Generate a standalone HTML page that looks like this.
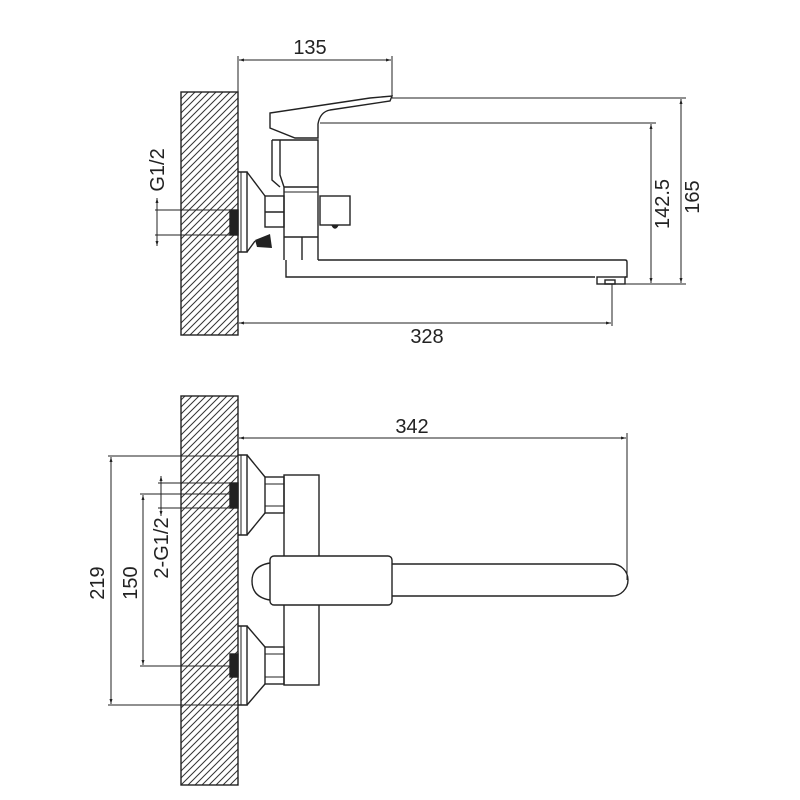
<!DOCTYPE html>
<html><head><meta charset="utf-8"><style>
html,body{margin:0;padding:0;background:#fff}
svg{display:block}
text{font-family:"Liberation Sans",sans-serif;font-size:20px;fill:#222}
</style></head><body>
<svg width="800" height="800" viewBox="0 0 800 800" xmlns="http://www.w3.org/2000/svg">
<defs>
<pattern id="h" patternUnits="userSpaceOnUse" width="7" height="7">
<path d="M-1,8 L8,-1 M-1,1 L1,-1 M6,8 L8,6" stroke="#333" stroke-width="1"/>
</pattern>
<marker id="a" viewBox="0 0 10 10" refX="10" refY="5" markerWidth="7" markerHeight="5" orient="auto-start-reverse"><path d="M0,2 L10,5 L0,8z" fill="#222"/></marker>
</defs>
<g fill="none" stroke="#222" stroke-width="1.4">
<!-- TOP VIEW -->
<rect x="181" y="92" width="57" height="243" fill="url(#h)"/>
<rect x="230" y="210" width="8" height="25" fill="#222"/>
<line x1="155" y1="210" x2="230" y2="210" stroke-width="1"/>
<line x1="155" y1="235" x2="230" y2="235" stroke-width="1"/>
<line x1="157" y1="198" x2="157" y2="246" stroke-width="1" marker-start="url(#a)" marker-end="url(#a)"/>
<path d="M238,172 L247,172 L247,252 L238,252"/>
<line x1="241" y1="172" x2="241" y2="252" stroke-width="1"/>
<path d="M247,172 L265,196 M247,252 L255,241"/>
<polygon points="255,240 270,234 272,248 257,247" fill="#222" stroke="none"/>
<rect x="265" y="196" width="19" height="31"/>
<line x1="265" y1="212" x2="284" y2="212"/>
<path d="M270,113 L270,128 L295,138 L318,138 L318,124 Q320,112 330,110 L390,101 L392,96 L370,98 Z"/>
<path d="M272,140 L318,140 L318,260"/>
<path d="M272,140 L272,180 L280,187"/>
<path d="M280,140 L280,175 L284,187 L284,260"/>
<line x1="284" y1="187" x2="318" y2="187"/>
<line x1="284" y1="192" x2="318" y2="192" stroke-width="1"/>
<line x1="284" y1="237" x2="318" y2="237"/>
<line x1="302" y1="237" x2="302" y2="260"/>
<rect x="320" y="196" width="30" height="29"/>
<path d="M332,225 Q335,231 338,225" fill="#222"/>
<path d="M286,260 L286,277 L595,277 M318,260 L625,260 Q627,260 627,262 L627,277 L625,277"/>
<rect x="597" y="277" width="28" height="7"/>
<rect x="605" y="280" width="10" height="4"/>
<line x1="238" y1="56" x2="238" y2="92" stroke-width="1"/>
<line x1="392" y1="56" x2="392" y2="98" stroke-width="1"/>
<line x1="239" y1="60" x2="391" y2="60" stroke-width="1" marker-start="url(#a)" marker-end="url(#a)"/>
<line x1="392" y1="98" x2="686" y2="98" stroke-width="1"/>
<line x1="320" y1="123" x2="656" y2="123" stroke-width="1"/>
<line x1="625" y1="284" x2="686" y2="284" stroke-width="1"/>
<line x1="651" y1="124" x2="651" y2="283" stroke-width="1" marker-start="url(#a)" marker-end="url(#a)"/>
<line x1="681" y1="99" x2="681" y2="283" stroke-width="1" marker-start="url(#a)" marker-end="url(#a)"/>
<line x1="238" y1="335" x2="238" y2="326" stroke-width="1"/>
<line x1="612" y1="284" x2="612" y2="326" stroke-width="1"/>
<line x1="239" y1="323" x2="611" y2="323" stroke-width="1" marker-start="url(#a)" marker-end="url(#a)"/>

<!-- BOTTOM VIEW -->
<rect x="181" y="396" width="57" height="389" fill="url(#h)"/>
<rect x="230" y="483" width="8" height="25" fill="#222"/>
<rect x="230" y="654" width="8" height="23" fill="#222"/>
<g>
<path d="M238,455 L247,455 L247,535 L238,535"/>
<line x1="241" y1="455" x2="241" y2="535" stroke-width="1"/>
<path d="M247,455 L265,477 M247,535 L265,513"/>
<rect x="265" y="477" width="19" height="36"/>
<line x1="265" y1="484" x2="284" y2="484" stroke-width="1"/>
<line x1="265" y1="506" x2="284" y2="506" stroke-width="1"/>
</g>
<g>
<path d="M238,626 L247,626 L247,705 L238,705"/>
<line x1="241" y1="626" x2="241" y2="705" stroke-width="1"/>
<path d="M247,626 L265,647 M247,705 L265,684"/>
<rect x="265" y="647" width="19" height="37"/>
<line x1="265" y1="654" x2="284" y2="654" stroke-width="1"/>
<line x1="265" y1="677" x2="284" y2="677" stroke-width="1"/>
</g>
<rect x="284" y="475" width="35" height="210"/>
<path d="M270,563 Q252,566 252,581 Q252,597 270,600"/>
<rect x="270" y="556" width="122" height="49" rx="4" fill="#fff"/>
<path d="M392,564 L612,564 A16,16 0 0 1 612,596 L392,596"/>
<line x1="239" y1="438" x2="626" y2="438" stroke-width="1" marker-start="url(#a)" marker-end="url(#a)"/>
<line x1="627" y1="433" x2="627" y2="580" stroke-width="1"/>
<line x1="108" y1="456" x2="238" y2="456" stroke-width="1"/>
<line x1="108" y1="705" x2="238" y2="705" stroke-width="1"/>
<line x1="111" y1="457" x2="111" y2="704" stroke-width="1" marker-start="url(#a)" marker-end="url(#a)"/>
<line x1="140" y1="494" x2="230" y2="494" stroke-width="1"/>
<line x1="140" y1="666" x2="230" y2="666" stroke-width="1"/>
<line x1="143" y1="495" x2="143" y2="665" stroke-width="1" marker-start="url(#a)" marker-end="url(#a)"/>
<line x1="158" y1="483" x2="230" y2="483" stroke-width="1"/>
<line x1="158" y1="508" x2="230" y2="508" stroke-width="1"/>
<line x1="161" y1="476" x2="161" y2="516" stroke-width="1" marker-start="url(#a)" marker-end="url(#a)"/>
</g>
<text x="310" y="54" text-anchor="middle">135</text>
<text x="427" y="343" text-anchor="middle">328</text>
<text x="412" y="433" text-anchor="middle">342</text>
<text transform="translate(164,170) rotate(-90)" text-anchor="middle">G1/2</text>
<text transform="translate(669,204) rotate(-90)" text-anchor="middle">142.5</text>
<text transform="translate(699,197) rotate(-90)" text-anchor="middle">165</text>
<text transform="translate(104,583) rotate(-90)" text-anchor="middle">219</text>
<text transform="translate(137,583) rotate(-90)" text-anchor="middle">150</text>
<text transform="translate(168,548) rotate(-90)" text-anchor="middle">2-G1/2</text>
</svg>
</body></html>
